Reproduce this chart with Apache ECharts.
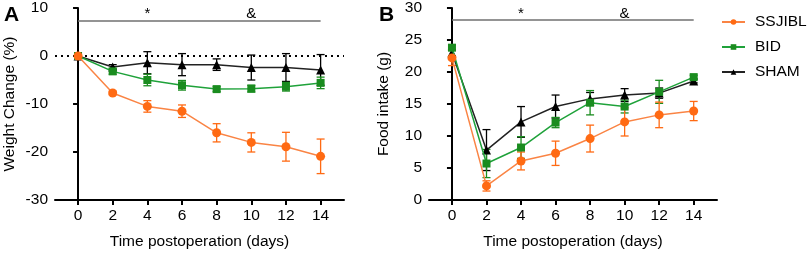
<!DOCTYPE html>
<html>
<head>
<meta charset="utf-8">
<script src="https://cdn.jsdelivr.net/npm/echarts@6/dist/echarts.min.js"></script>
<style>
html, body { margin: 0; padding: 0; background: #fff; }
#main { width: 809px; height: 255px; }
</style>
</head>
<body>
<div id="main"></div>
<script>
var days = [0, 2, 4, 6, 8, 10, 12, 14];
var groups = ['SSJIBL', 'BID', 'SHAM'];

// panel A: weight change (%), mean and error
var weightSSJIBL = [0, -7.7, -10.5, -11.5, -16.0, -18.0, -18.9, -20.9];
var weightSSJIBLErr = [0, 0.4, 1.2, 1.3, 1.9, 2.0, 3.0, 3.6];
var weightBID = [0, -3.2, -5.0, -6.1, -6.9, -6.8, -6.4, -5.6];
var weightBIDErr = [0, 0.6, 1.2, 1.0, 0.5, 0.7, 0.9, 1.2];
var weightSHAM = [0, -2.3, -1.4, -1.8, -1.8, -2.4, -2.4, -2.9];
var weightSHAMErr = [0, 0.5, 2.3, 2.3, 1.2, 2.6, 2.9, 3.2];

// panel B: food intake (g), mean and error
var foodSSJIBL = [22.2, 2.2, 6.1, 7.3, 9.6, 12.2, 13.3, 13.9];
var foodSSJIBLErr = [1.2, 0.8, 1.4, 1.9, 2.1, 2.2, 2.0, 1.5];
var foodBID = [23.8, 5.7, 8.2, 12.1, 15.2, 14.6, 16.9, 19.2];
var foodBIDErr = [0.4, 2.2, 1.7, 0.8, 1.9, 1.0, 1.8, 0.3];
var foodSHAM = [23.0, 7.8, 12.2, 14.6, 15.8, 16.4, 16.7, 18.6];
var foodSHAMErr = [0.5, 3.2, 2.4, 1.8, 1.0, 1.0, 0.8, 0.3];

// significance bar above each panel
var sigDays = [0, 14];
var sigMarkDays = [4, 10];
var sigMarks = ['*', '&'];
var sigLineY = [7.3, 28.1];
var sigTextY = [8.8, 29.1];

var markerColors = ['#ff6a13', '#1a8c1f', '#000000'];
var lineColors = ['#fa8444', '#1fa23a', '#222222'];
var symbols = ['circle', 'rect', 'triangle'];
var symbolSizes = [9, 8, 9];
var font = 'Liberation Sans, Arial, sans-serif';

var chart = echarts.init(document.getElementById('main'));

function errorSeries(name, idx, values, errs, color) {
	return {
		type: 'custom',
		name: name + ' err',
		xAxisIndex: idx,
		yAxisIndex: idx,
		silent: true,
		z: 3,
		data: days.map(function (d, i) { return [d, values[i] - errs[i], values[i] + errs[i]]; }),
		renderItem: function (params, api) {
			var lo = api.coord([api.value(0), api.value(1)]);
			var hi = api.coord([api.value(0), api.value(2)]);
			var w = 4;
			var st = { stroke: color, lineWidth: 1.3 };
			return {
				type: 'group',
				children: [
					{ type: 'line', shape: { x1: lo[0], y1: lo[1], x2: hi[0], y2: hi[1] }, style: st },
					{ type: 'line', shape: { x1: lo[0] - w, y1: lo[1], x2: lo[0] + w, y2: lo[1] }, style: st },
					{ type: 'line', shape: { x1: hi[0] - w, y1: hi[1], x2: hi[0] + w, y2: hi[1] }, style: st }
				]
			};
		}
	};
}

function lineSeries(g, idx, values, zz) {
	return {
		type: 'line',
		name: groups[g],
		xAxisIndex: idx,
		yAxisIndex: idx,
		data: days.map(function (d, i) { return [d, values[i]]; }),
		symbol: symbols[g],
		symbolSize: symbolSizes[g],
		showSymbol: true,
		itemStyle: { color: markerColors[g] },
		lineStyle: { color: lineColors[g], width: 1.5 },
		z: zz,
		animation: false
	};
}

function xAxisCfg(idx) {
	return {
		gridIndex: idx,
		type: 'value',
		min: -1.33,
		max: 15.35,
		name: 'Time postoperation (days)',
		nameLocation: 'middle',
		nameGap: 34,
		nameTextStyle: { fontSize: 15.5, color: '#000', fontFamily: font },
		axisLine: { onZero: false, lineStyle: { color: '#000', width: 2 } },
		axisTick: { customValues: days, length: 5, lineStyle: { width: 2, color: '#000' } },
		axisLabel: { customValues: days, margin: 8, fontSize: 15.5, color: '#000', fontFamily: font },
		splitLine: { show: false }
	};
}

function yAxisCfg(idx, min, max, step, name) {
	return {
		gridIndex: idx,
		type: 'value',
		min: min,
		max: max,
		interval: step,
		name: name,
		nameLocation: 'middle',
		nameGap: 37,
		nameTextStyle: { fontSize: 15.5, color: '#000', fontFamily: font },
		axisLine: { show: true, lineStyle: { color: '#000', width: 2 } },
		axisTick: { show: true, length: 5, lineStyle: { width: 2, color: '#000' } },
		axisLabel: { margin: 7, fontSize: 15.5, color: '#000', fontFamily: font },
		splitLine: { show: false }
	};
}

function sigSeries(idx) {
	return {
		type: 'line',
		name: 'sig' + idx,
		xAxisIndex: idx,
		yAxisIndex: idx,
		data: [],
		silent: true,
		markLine: {
			symbol: 'none',
			silent: true,
			animation: false,
			label: { show: false },
			lineStyle: { color: '#707070', width: 1.5, type: 'solid' },
			data: [[{ coord: [sigDays[0], sigLineY[idx]] }, { coord: [sigDays[1], sigLineY[idx]] }]]
		},
		markPoint: {
			symbol: 'circle',
			symbolSize: 0,
			silent: true,
			animation: false,
			label: {
				show: true,
				position: 'inside',
				fontSize: 15,
				color: '#000',
				fontFamily: font,
				formatter: function (p) { return p.name; }
			},
			data: sigMarks.map(function (m, i) { return { name: m, coord: [sigMarkDays[i], sigTextY[idx]] }; })
		}
	};
}

var zeroLine = {
	type: 'line',
	name: 'zero',
	xAxisIndex: 0,
	yAxisIndex: 0,
	data: [],
	silent: true,
	markLine: {
		symbol: 'none',
		silent: true,
		animation: false,
		label: { show: false },
		lineStyle: { color: '#000', width: 2, type: [2, 4] },
		data: [{ yAxis: 0 }]
	}
};

var option = {
	animation: false,
	textStyle: { fontFamily: font },
	grid: [
		{ left: 55, top: 8, width: 289, height: 192 },
		{ left: 429, top: 8, width: 288, height: 192 }
	],
	xAxis: [xAxisCfg(0), xAxisCfg(1)],
	yAxis: [
		yAxisCfg(0, -30, 10, 10, 'Weight Change (%)'),
		yAxisCfg(1, 0, 30, 5, 'Food intake (g)')
	],
	legend: {
		data: groups,
		orient: 'vertical',
		left: 721,
		top: 14,
		padding: 0,
		itemWidth: 23,
		itemHeight: 7,
		itemGap: 9,
		selectedMode: false,
		textStyle: { fontSize: 15.5, color: '#000', fontFamily: font, lineHeight: 16, padding: [0, 0, 0, 5] }
	},
	graphic: [
		{ type: 'text', left: 4, top: 5, style: { text: 'A', fontSize: 21, fontWeight: 'bold', fill: '#000', fontFamily: font } },
		{ type: 'text', left: 379, top: 5, style: { text: 'B', fontSize: 21, fontWeight: 'bold', fill: '#000', fontFamily: font } }
	],
	series: [
		zeroLine,
		sigSeries(0),
		sigSeries(1),
		errorSeries('SHAM', 0, weightSHAM, weightSHAMErr, markerColors[2]),
		errorSeries('BID', 0, weightBID, weightBIDErr, markerColors[1]),
		errorSeries('SSJIBL', 0, weightSSJIBL, weightSSJIBLErr, markerColors[0]),
		errorSeries('SHAM', 1, foodSHAM, foodSHAMErr, markerColors[2]),
		errorSeries('BID', 1, foodBID, foodBIDErr, markerColors[1]),
		errorSeries('SSJIBL', 1, foodSSJIBL, foodSSJIBLErr, markerColors[0]),
		lineSeries(0, 0, weightSSJIBL, 6),
		lineSeries(1, 0, weightBID, 5),
		lineSeries(2, 0, weightSHAM, 4),
		lineSeries(0, 1, foodSSJIBL, 6),
		lineSeries(1, 1, foodBID, 5),
		lineSeries(2, 1, foodSHAM, 4)
	]
};

chart.setOption(option);
</script>
</body>
</html>
